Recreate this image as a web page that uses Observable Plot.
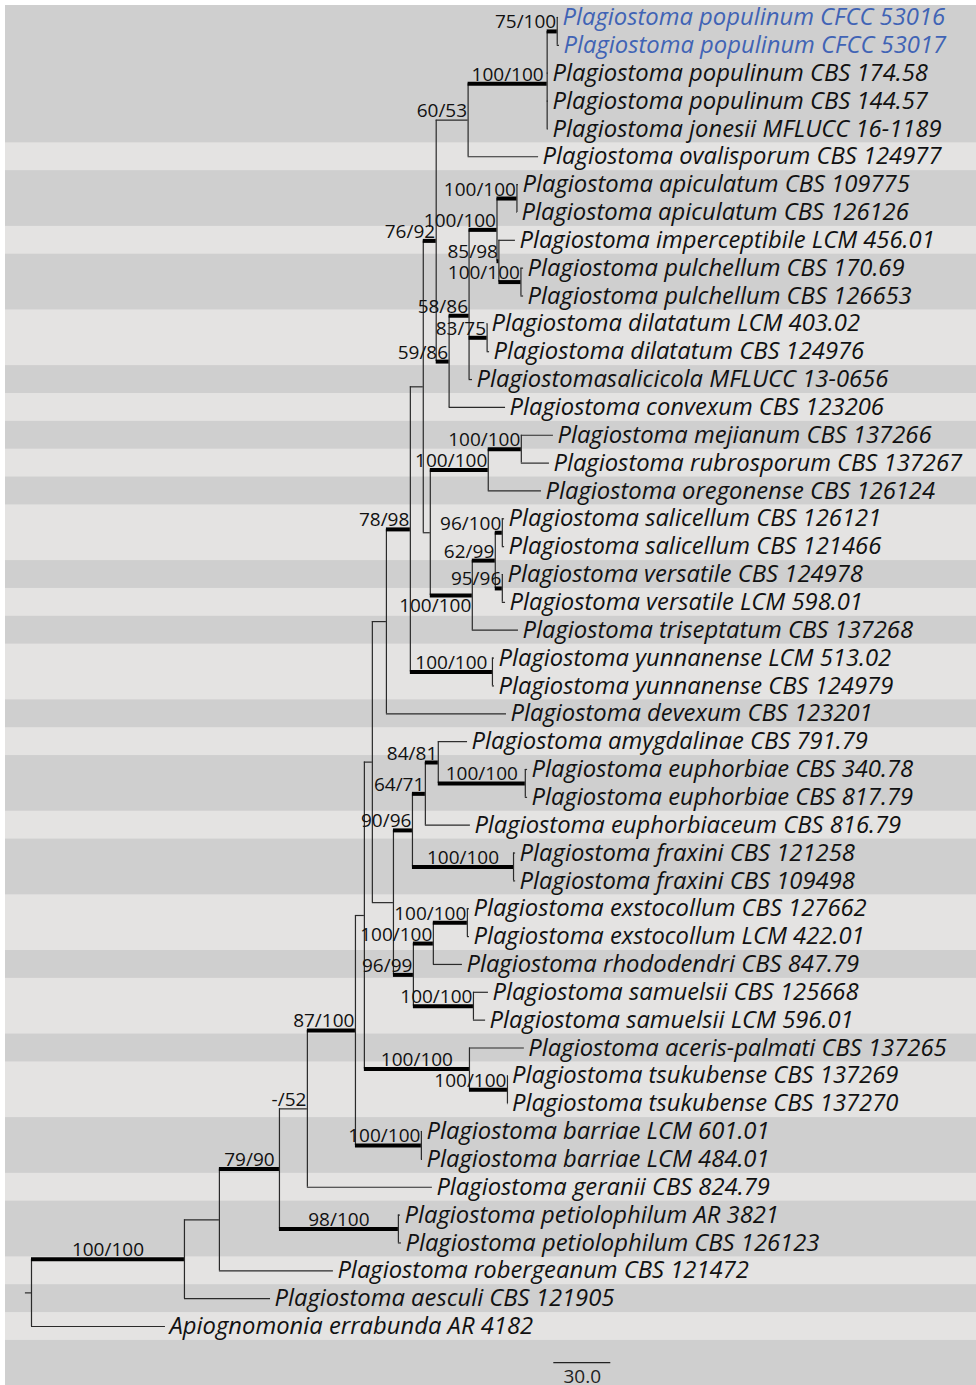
<!DOCTYPE html>
<html><head><meta charset="utf-8">
<script src="https://cdn.jsdelivr.net/npm/d3@7"></script>
<script src="https://cdn.jsdelivr.net/npm/@observablehq/plot@0.6"></script>
<style>
html,body{margin:0;padding:0;background:#fff;}
#panel{position:absolute;left:5px;top:5px;width:971px;height:1380px;background:#cfcfcf;}
#panel svg{position:absolute;left:0;top:0;max-width:none !important;width:971px;height:1380px;overflow:visible;}
</style></head><body><div id="panel"></div>
<script>
// ---- tips (top to bottom) ----
const taxa = [
"Plagiostoma populinum CFCC 53016","Plagiostoma populinum CFCC 53017","Plagiostoma populinum CBS 174.58",
"Plagiostoma populinum CBS 144.57","Plagiostoma jonesii MFLUCC 16-1189","Plagiostoma ovalisporum CBS 124977",
"Plagiostoma apiculatum CBS 109775","Plagiostoma apiculatum CBS 126126","Plagiostoma imperceptibile LCM 456.01",
"Plagiostoma pulchellum CBS 170.69","Plagiostoma pulchellum CBS 126653","Plagiostoma dilatatum LCM 403.02",
"Plagiostoma dilatatum CBS 124976","Plagiostomasalicicola MFLUCC 13-0656","Plagiostoma convexum CBS 123206",
"Plagiostoma mejianum CBS 137266","Plagiostoma rubrosporum CBS 137267","Plagiostoma oregonense CBS 126124",
"Plagiostoma salicellum CBS 126121","Plagiostoma salicellum CBS 121466","Plagiostoma versatile CBS 124978",
"Plagiostoma versatile LCM 598.01","Plagiostoma triseptatum CBS 137268","Plagiostoma yunnanense LCM 513.02",
"Plagiostoma yunnanense CBS 124979","Plagiostoma devexum CBS 123201","Plagiostoma amygdalinae CBS 791.79",
"Plagiostoma euphorbiae CBS 340.78","Plagiostoma euphorbiae CBS 817.79","Plagiostoma euphorbiaceum CBS 816.79",
"Plagiostoma fraxini CBS 121258","Plagiostoma fraxini CBS 109498","Plagiostoma exstocollum CBS 127662",
"Plagiostoma exstocollum LCM 422.01","Plagiostoma rhododendri CBS 847.79","Plagiostoma samuelsii CBS 125668",
"Plagiostoma samuelsii LCM 596.01","Plagiostoma aceris-palmati CBS 137265","Plagiostoma tsukubense CBS 137269",
"Plagiostoma tsukubense CBS 137270","Plagiostoma barriae LCM 601.01","Plagiostoma barriae LCM 484.01",
"Plagiostoma geranii CBS 824.79","Plagiostoma petiolophilum AR 3821","Plagiostoma petiolophilum CBS 126123",
"Plagiostoma robergeanum CBS 121472","Plagiostoma aesculi CBS 121905","Apiognomonia errabunda AR 4182"
];
const highlighted = ["Plagiostoma populinum CFCC 53016","Plagiostoma populinum CFCC 53017"];
// terminal branch lengths (same order as taxa)
const tipLengths = [0.7,1.2,0.7,0.7,0.7,37.1,0.8,0.3,8.7,1.4,1.4,0.2,1.3,1.8,29.7,16.9,14.8,28,1.2,1.2,
  0.6,1.7,24.3,1.1,1.1,63.2,15.4,1.2,1.2,23.7,1.1,1.1,1.1,1.1,15.3,7.9,6.4,28.9,0.3,0.3,0.6,0.6,65.8,1.1,1.6,60,45.3,70.5];
// internal nodes: clade as [first tip, last tip]
const cladeTips = [[0,47],[0,46],[0,45],[0,44],[0,42],[0,41],[0,39],[0,36],[0,25],[0,24],[0,22],[0,14],[0,5],[0,4],[0,1],
  [6,14],[6,13],[6,10],[6,7],[8,10],[9,10],[11,12],[15,22],[15,17],[15,16],[18,22],[18,21],[18,19],[20,21],[23,24],
  [26,36],[26,31],[26,29],[26,28],[27,28],[30,31],[32,36],[32,34],[32,33],[35,36],[37,39],[38,39],[40,41],[43,44]];
const cladeLengths = [0,80.5,18.4,31.6,14.7,25.3,4.7,4.2,7.4,12.6,6.8,6.8,16.8,41.6,5.3,
  6.8,10.5,14.7,10.5,1.0,11.6,9.5,3.7,30.5,17.4,22.1,12.1,3.7,3.7,43.2,
  11.1,10,6.8,6.8,45.8,53.2,10.5,10.5,17.9,31.6,55.3,20,34.7,62.6];
const cladeSupport = ["","100/100","","79/90","-/52","87/100","","","","78/98","","76/92","60/53","100/100","75/100",
  "59/86","58/86","100/100","100/100","85/98","100/100","83/75","","100/100","100/100","100/100","62/99","96/100","95/96","100/100",
  "","90/96","64/71","84/81","100/100","100/100","96/99","100/100","100/100","100/100","100/100","100/100","100/100","98/100"];
// background bands: number of rows per band, alternating dark / light from the top
const bandSizes = [5,1,2,1,2,2,1,1,1,1,1,2,1,1,1,2,1,1,2,1,2,2,1,2,1,2,2,1,2,1,1,1];
const scaleBarLength = 30;
const scaleBarLabel = "30.0";

// ---- build the tree ----
const tips = taxa.map((name, i) => ({name, lo: i, hi: i, len: tipLengths[i], tip: true, y: i, children: []}));
const clades = cladeTips.map(([lo, hi], i) => ({lo, hi, len: cladeLengths[i], support: cladeSupport[i], tip: false, children: []}));
const bySize = clades.slice().sort((a, b) => (b.hi - b.lo) - (a.hi - a.lo));
function parentOf(n) {
  let best = null;
  for (const c of clades) {
    if (c === n) continue;
    if (c.lo <= n.lo && c.hi >= n.hi && !(c.lo === n.lo && c.hi === n.hi)) {
      if (!best || (c.hi - c.lo) < (best.hi - best.lo)) best = c;
    }
  }
  return best;
}
for (const n of [...clades, ...tips]) { n.parent = parentOf(n); if (n.parent) n.parent.children.push(n); }
for (const c of bySize) c.depth = (c.parent ? c.parent.depth : 0) + c.len;
for (const t of tips) t.depth = t.parent.depth + t.len;
for (const c of bySize.slice().reverse()) {
  c.y = d3.mean(c.children, d => d.y);
  c.y1 = d3.min(c.children, d => d.y);
  c.y2 = d3.max(c.children, d => d.y);
}
const root = bySize[0];
const edges = [...clades, ...tips].filter(n => n.parent).map(n => ({x1: n.parent.depth, x2: n.depth, y: n.y, support: n.support || "",
  thick: n.support ? (+n.support.split("/")[1] >= 70) : false, node: n}));

// light bands
const bands = [];
{ let r = 0; bandSizes.forEach((s, i) => { if (i % 2 === 1) bands.push({y1: r - 0.5, y2: r + s - 0.5}); r += s; }); }

// ---- scales ----
const W = 971, H = 1380;
const xDomain = [-13.68, 497.37];
const yDomain = [0, 47], yRange = [12, 1321];
const xs = d3.scaleLinear(xDomain, [0, W]);
const ys = d3.scaleLinear(yDomain, yRange);

// support-label placement: centred on the branch, but never past the node;
// a label that collides with a deeper clade's label goes below its branch
const SUP = 19, TAX = 23.8, FONT = "Open Sans";
const ctx = document.createElement("canvas").getContext("2d");
ctx.font = `${SUP}px "${FONT}"`;
const supports = edges.filter(e => e.support).map(e => {
  const w = ctx.measureText(e.support).width;
  const c = (xs(e.x1) + xs(e.x2)) / 2;
  const right = Math.min(c + w / 2, xs(e.x2) - 1);
  const py = ys(e.y);
  return {x: xs.invert(right), y: e.y, text: e.support, depth: e.x2, box: [right - w, py - 3 - SUP * 0.72, right, py - 3], below: false};
});
for (const a of supports) for (const b of supports) {
  if (a === b || b.depth <= a.depth) continue;
  const ox = Math.min(a.box[2], b.box[2]) - Math.max(a.box[0], b.box[0]);
  const oy = Math.min(a.box[3], b.box[3]) - Math.max(a.box[1], b.box[1]);
  if (ox > 0 && oy > 5) a.below = true;
}

const maxDepth = d3.max(tips, d => d.depth);
const sbStart = maxDepth - scaleBarLength / 10;
const sbRow = yDomain[1] + 1.3;

const plot = Plot.plot({
  width: W, height: H,
  marginLeft: 0, marginRight: 0, marginTop: 0, marginBottom: 0,
  x: {domain: xDomain, range: [0, W], axis: null},
  y: {domain: yDomain, range: yRange, axis: null},
  style: {background: "transparent", overflow: "visible", maxWidth: "none"},
  marks: [
    Plot.rect(bands, {x1: xDomain[0], x2: xDomain[1], y1: "y1", y2: "y2", fill: "#e4e3e2"}),
    Plot.ruleX(clades, {x: "depth", y1: "y1", y2: "y2", stroke: "#2a2a2a", strokeWidth: 1.2}),
    Plot.ruleY(edges.filter(e => !e.thick), {y: "y", x1: "x1", x2: "x2", stroke: "#2a2a2a", strokeWidth: 1.2}),
    Plot.ruleY(edges.filter(e => e.thick), {y: "y", x1: "x1", x2: "x2", stroke: "#000", strokeWidth: 4}),
    Plot.ruleY([root], {y: "y", x1: d => d.depth - 3.2, x2: "depth", stroke: "#2a2a2a", strokeWidth: 1.2}),
    Plot.text(supports.filter(d => !d.below), {x: "x", y: "y", text: "text", textAnchor: "end", lineAnchor: "bottom", dy: -3,
      fontFamily: FONT, fontSize: SUP, fill: "#111"}),
    Plot.text(supports.filter(d => d.below), {x: "x", y: "y", text: "text", textAnchor: "end", lineAnchor: "top", dy: 3,
      fontFamily: FONT, fontSize: SUP, fill: "#111"}),
    Plot.text(tips.filter(t => !highlighted.includes(t.name)), {x: "depth", y: "y", text: "name", textAnchor: "start", dx: 4,
      lineAnchor: "middle", fontFamily: FONT, fontStyle: "italic", fontSize: TAX, fill: "#111"}),
    Plot.text(tips.filter(t => highlighted.includes(t.name)), {x: "depth", y: "y", text: "name", textAnchor: "start", dx: 4,
      lineAnchor: "middle", fontFamily: FONT, fontStyle: "italic", fontSize: TAX, fill: "#4063b5"}),
    Plot.ruleY([{y: sbRow}], {y: "y", x1: sbStart, x2: sbStart + scaleBarLength, stroke: "#222", strokeWidth: 1.2}),
    Plot.text([{y: sbRow}], {x: sbStart + scaleBarLength / 2, y: "y", text: () => scaleBarLabel, lineAnchor: "middle", dy: 14,
      fontFamily: FONT, fontSize: SUP, fill: "#222"})
  ]
});
document.getElementById("panel").appendChild(plot);
</script>
</body></html>
